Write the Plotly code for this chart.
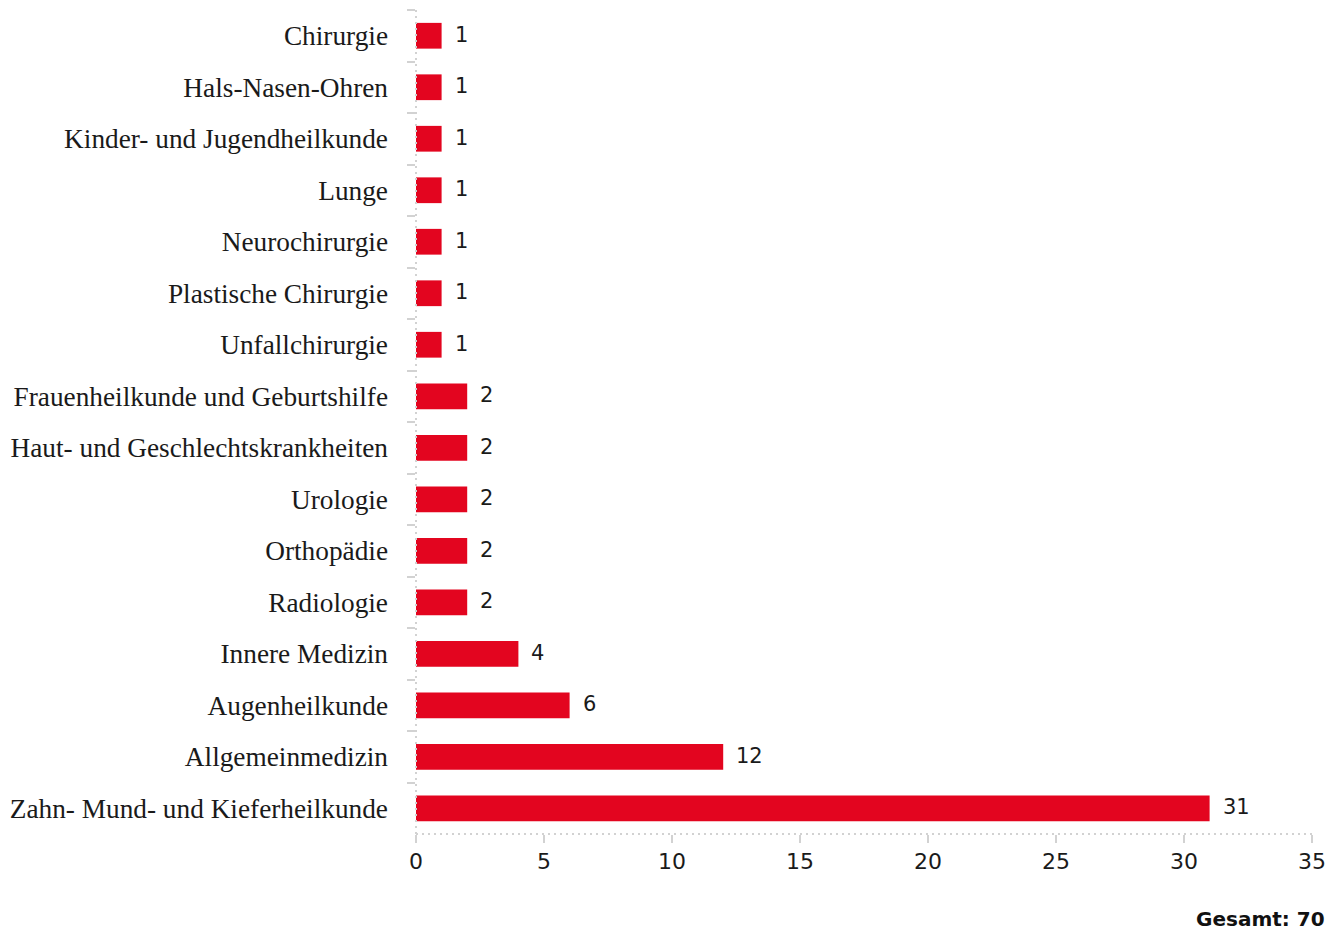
import plotly.graph_objects as go

categories = [
    "Chirurgie", "Hals-Nasen-Ohren", "Kinder- und Jugendheilkunde", "Lunge",
    "Neurochirurgie", "Plastische Chirurgie", "Unfallchirurgie",
    "Frauenheilkunde und Geburtshilfe", "Haut- und Geschlechtskrankheiten",
    "Urologie", "Orthopädie", "Radiologie", "Innere Medizin",
    "Augenheilkunde", "Allgemeinmedizin", "Zahn- Mund- und Kieferheilkunde",
]
values = [1, 1, 1, 1, 1, 1, 1, 2, 2, 2, 2, 2, 4, 6, 12, 31]
x_ticks = [0, 5, 10, 15, 20, 25, 30, 35]
total_label = "Gesamt: 70"

RED = "#e3051f"
GRID = "#d2d2d2"
TXT = "#1a1a1a"
SANS = "DejaVu Sans, Liberation Sans, Arial, sans-serif"
SERIF = "Liberation Serif, DejaVu Serif, serif"

fig = go.Figure()
fig.add_trace(go.Bar(
    x=values, y=categories, orientation="h",
    marker=dict(color=RED, line=dict(width=0)),
    width=0.5, hoverinfo="skip",
))

for c, v in zip(categories, values):
    fig.add_annotation(x=v, y=c, text=str(v), showarrow=False,
                       xanchor="left", xshift=11, yshift=1,
                       font=dict(family=SANS, size=21, color=TXT))

# dotted axis lines
fig.add_shape(type="line", xref="paper", yref="paper", x0=0, x1=1, y0=0, y1=0,
              line=dict(color=GRID, width=2, dash="2px,4px"))
fig.add_shape(type="line", xref="paper", yref="paper", x0=0, x1=0, y0=0, y1=1,
              line=dict(color=GRID, width=2, dash="2px,4px"))

fig.add_annotation(xref="paper", yref="paper", x=1.017, y=-0.086, text="<b>" + total_label + "</b>",
                   showarrow=False, xanchor="right", yanchor="top",
                   font=dict(family=SANS, size=20, color="#111"))

fig.update_layout(
    width=1336, height=924,
    margin=dict(l=408, r=32, t=2, b=98),
    paper_bgcolor="white", plot_bgcolor="white",
    showlegend=False,
    xaxis=dict(range=[0, 35], tickvals=x_ticks, showgrid=False, zeroline=False,
               showline=False, ticks="outside", ticklen=8, tickwidth=2, tickcolor=GRID,
               tickfont=dict(family=SANS, size=22, color=TXT)),
    yaxis=dict(categoryorder="array", categoryarray=categories, autorange="reversed",
               showgrid=False, zeroline=False, showline=False,
               ticks="outside", tickson="boundaries", ticklen=8, tickwidth=2, tickcolor=GRID,
               ticklabelstandoff=27,
               tickfont=dict(family=SERIF, size=27.3, color=TXT)),
)

fig.write_html("out.html")
